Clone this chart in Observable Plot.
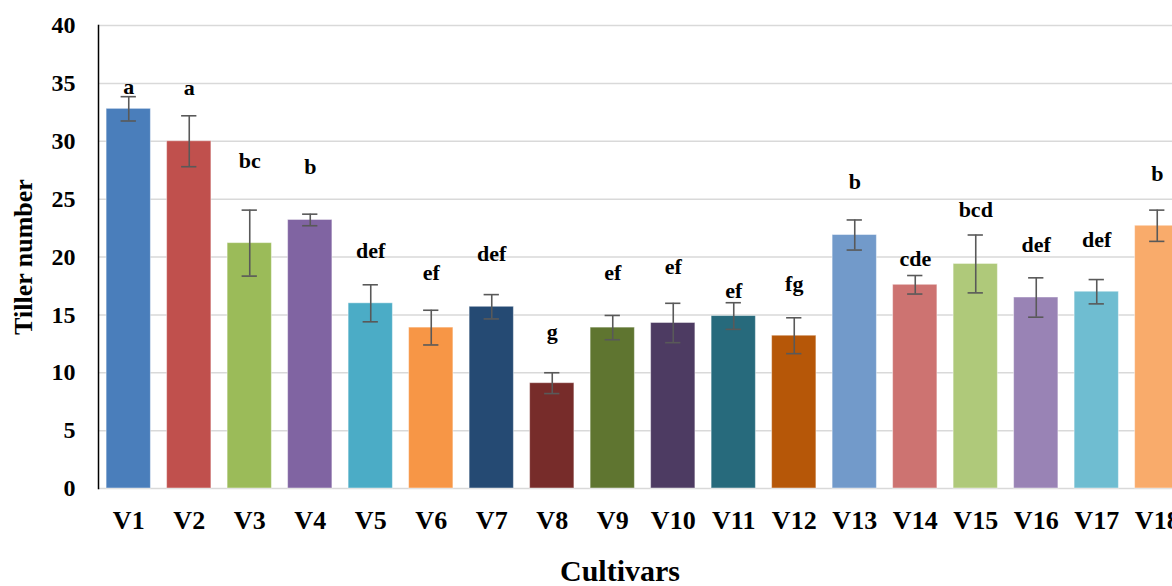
<!DOCTYPE html>
<html><head><meta charset="utf-8">
<script src="https://cdn.jsdelivr.net/npm/d3@7"></script>
<script src="https://cdn.jsdelivr.net/npm/@observablehq/plot@0.6"></script>
<style>html,body{margin:0;padding:0;background:#fff;overflow:hidden}</style>
</head><body><div id="chart"></div>
<script>
const cultivars = ["V1","V2","V3","V4","V5","V6","V7","V8","V9","V10","V11","V12","V13","V14","V15","V16","V17","V18"];
const tillers = [32.8, 30.0, 21.2, 23.2, 16.0, 13.9, 15.7, 9.1, 13.9, 14.3, 14.9, 13.2, 21.9, 17.6, 19.4, 16.5, 17.0, 22.7];
const errors  = [1.05, 2.2, 2.85, 0.5, 1.6, 1.5, 1.05, 0.9, 1.05, 1.7, 1.15, 1.55, 1.3, 0.8, 2.5, 1.7, 1.05, 1.35];
const letters = ["a","a","bc","b","def","ef","def","g","ef","ef","ef","fg","b","cde","bcd","def","def","b"];
const letterHeights = [34.7, 34.6, 28.3, 27.75, 20.5, 18.6, 20.3, 13.5, 18.6, 19.1, 17.05, 17.7, 26.5, 19.8, 24.1, 21.0, 21.5, 27.2];
const colors = ["#4a7ebb","#c0504d","#9bbb59","#8064a2","#4bacc6","#f79646","#254a73","#772c2a","#5f7530","#4d3b62","#276a7c","#b65708","#729aca","#cd7371","#afc97a","#9983b5","#6fbdd1","#f9ab6b"];
const yTicks = [0,5,10,15,20,25,30,35,40];
const yTitle = "Tiller number";
const xTitle = "Cultivars";

const data = cultivars.map((c, i) => ({
  cultivar: c, mean: tillers[i], err: errors[i],
  lo: tillers[i] - errors[i], hi: tillers[i] + errors[i],
  letter: letters[i], ly: letterHeights[i]
}));

const font = "'Liberation Serif', 'Times New Roman', serif";

const chart = Plot.plot({
  width: 1172,
  height: 586,
  marginLeft: 98,
  marginRight: -15,
  marginTop: 25,
  marginBottom: 98,
  style: {fontFamily: font, fontWeight: "bold", background: "#fff", color: "#000"},
  x: {domain: cultivars, paddingInner: 0.268, paddingOuter: 0.134, align: 0.5, round: false},
  y: {domain: [0, 40]},
  color: {domain: cultivars, range: colors},
  marks: [
    Plot.gridY(yTicks, {stroke: "#d9d9d9", strokeOpacity: 1, strokeWidth: 1.5}),
    Plot.barY(data, {x: "cultivar", y: "mean", fill: "cultivar", stroke: "#ffffff", strokeOpacity: 0.45, strokeWidth: 1}),
    Plot.ruleX(data, {x: "cultivar", y1: "lo", y2: "hi", stroke: "#595959", strokeWidth: 1.6}),
    Plot.tickY(data, {x: "cultivar", y: "lo", stroke: "#595959", strokeWidth: 1.6, insetLeft: 14.5, insetRight: 14.5}),
    Plot.tickY(data, {x: "cultivar", y: "hi", stroke: "#595959", strokeWidth: 1.6, insetLeft: 14.5, insetRight: 14.5}),
    Plot.text(data, {x: "cultivar", y: "ly", text: "letter", fontSize: 22, fontWeight: "bold", fill: "#000", lineAnchor: "middle"}),
    Plot.frame({anchor: "left", stroke: "#000", strokeWidth: 1.5}),
    Plot.axisY(yTicks, {tickSize: 0, tickPadding: 23, fontSize: 24, label: null, fill: "#000"}),
    Plot.axisX({tickSize: 0, tickPadding: 22, fontSize: 26, label: null, fill: "#000"}),
    Plot.text([yTitle], {frameAnchor: "left", text: d => d, rotate: -90, dx: -75, fontSize: 26, fontWeight: "bold", fill: "#000", lineAnchor: "middle", textAnchor: "middle"}),
    Plot.text([xTitle], {frameAnchor: "bottom", text: d => d, dx: -23, dy: 83, fontSize: 30, fontWeight: "bold", fill: "#000", lineAnchor: "middle"})
  ]
});
document.getElementById("chart").appendChild(chart);
</script>
</body></html>
